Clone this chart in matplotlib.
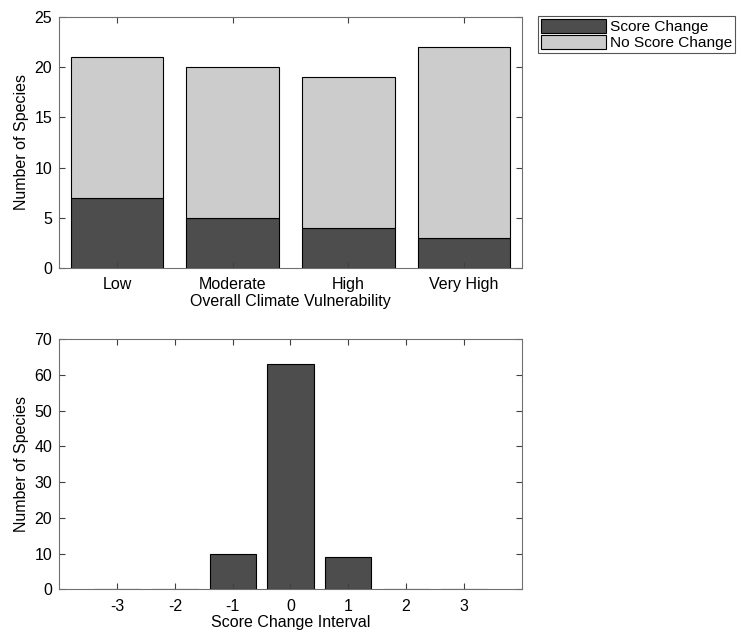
import matplotlib
matplotlib.use('Agg')
import matplotlib.pyplot as plt
import numpy as np

plt.rcParams['font.family'] = ['Liberation Sans', 'DejaVu Sans']
plt.rcParams['font.size'] = 11.5
plt.rcParams['axes.unicode_minus'] = False

categories = ['Low', 'Moderate', 'High', 'Very High']
score_change = [7, 5, 4, 3]
no_score_change = [14, 15, 15, 19]

intervals = [-3, -2, -1, 0, 1, 2, 3]
interval_counts = [0, 0, 10, 63, 9, 0, 0]

dark = '#4d4d4d'
light = '#cccccc'

W, H = 741, 632
fig = plt.figure(figsize=(W/100, H/100), dpi=100)
ax1 = fig.add_axes([59.3/W, 1-267.7/H, 462.4/W, 250.4/H])
ax2 = fig.add_axes([59.3/W, 1-589.3/H, 462.4/W, 250.3/H])

x = np.arange(1, len(categories)+1)
ax1.bar(x, score_change, width=0.8, color=dark, edgecolor='black', lw=0.8, label='Score Change')
ax1.bar(x, no_score_change, width=0.8, bottom=score_change, color=light, edgecolor='black', lw=0.8, label='No Score Change')
ax1.set_xlim(0.5, 4.5)
ax1.set_ylim(0, 25)
ax1.set_xticks(x)
ax1.set_xticklabels(categories)
ax1.set_yticks(range(0, 26, 5))
ax1.set_xlabel('Overall Climate Vulnerability', labelpad=1)
ax1.set_ylabel('Number of Species', labelpad=4)
leg = ax1.legend(loc='upper left', bbox_to_anchor=(538/W, 1-16/H), bbox_transform=fig.transFigure,
                 frameon=True, fancybox=False, edgecolor='#555555', framealpha=1, fontsize=11.1,
                 borderpad=0.2, labelspacing=0.05, handlelength=4.2, handleheight=1.0,
                 handletextpad=0.25, borderaxespad=0)
leg.get_frame().set_linewidth(0.8)

ax2.bar(intervals, interval_counts, width=0.8, color=dark, edgecolor='black', lw=0.8)
ax2.set_xlim(-4, 4)
ax2.set_ylim(0, 70)
ax2.set_xticks(intervals)
ax2.set_yticks(range(0, 71, 10))
ax2.set_xlabel('Score Change Interval', labelpad=1)
ax2.set_ylabel('Number of Species', labelpad=4)

for ax in (ax1, ax2):
    for s in ax.spines.values():
        s.set_color('#707070')
    ax.tick_params(direction='in', top=True, right=True, length=4, color='#404040')
    ax.tick_params(axis='x', pad=7)
    ax.tick_params(axis='y', pad=5)

plt.savefig('out.png', dpi=100)
